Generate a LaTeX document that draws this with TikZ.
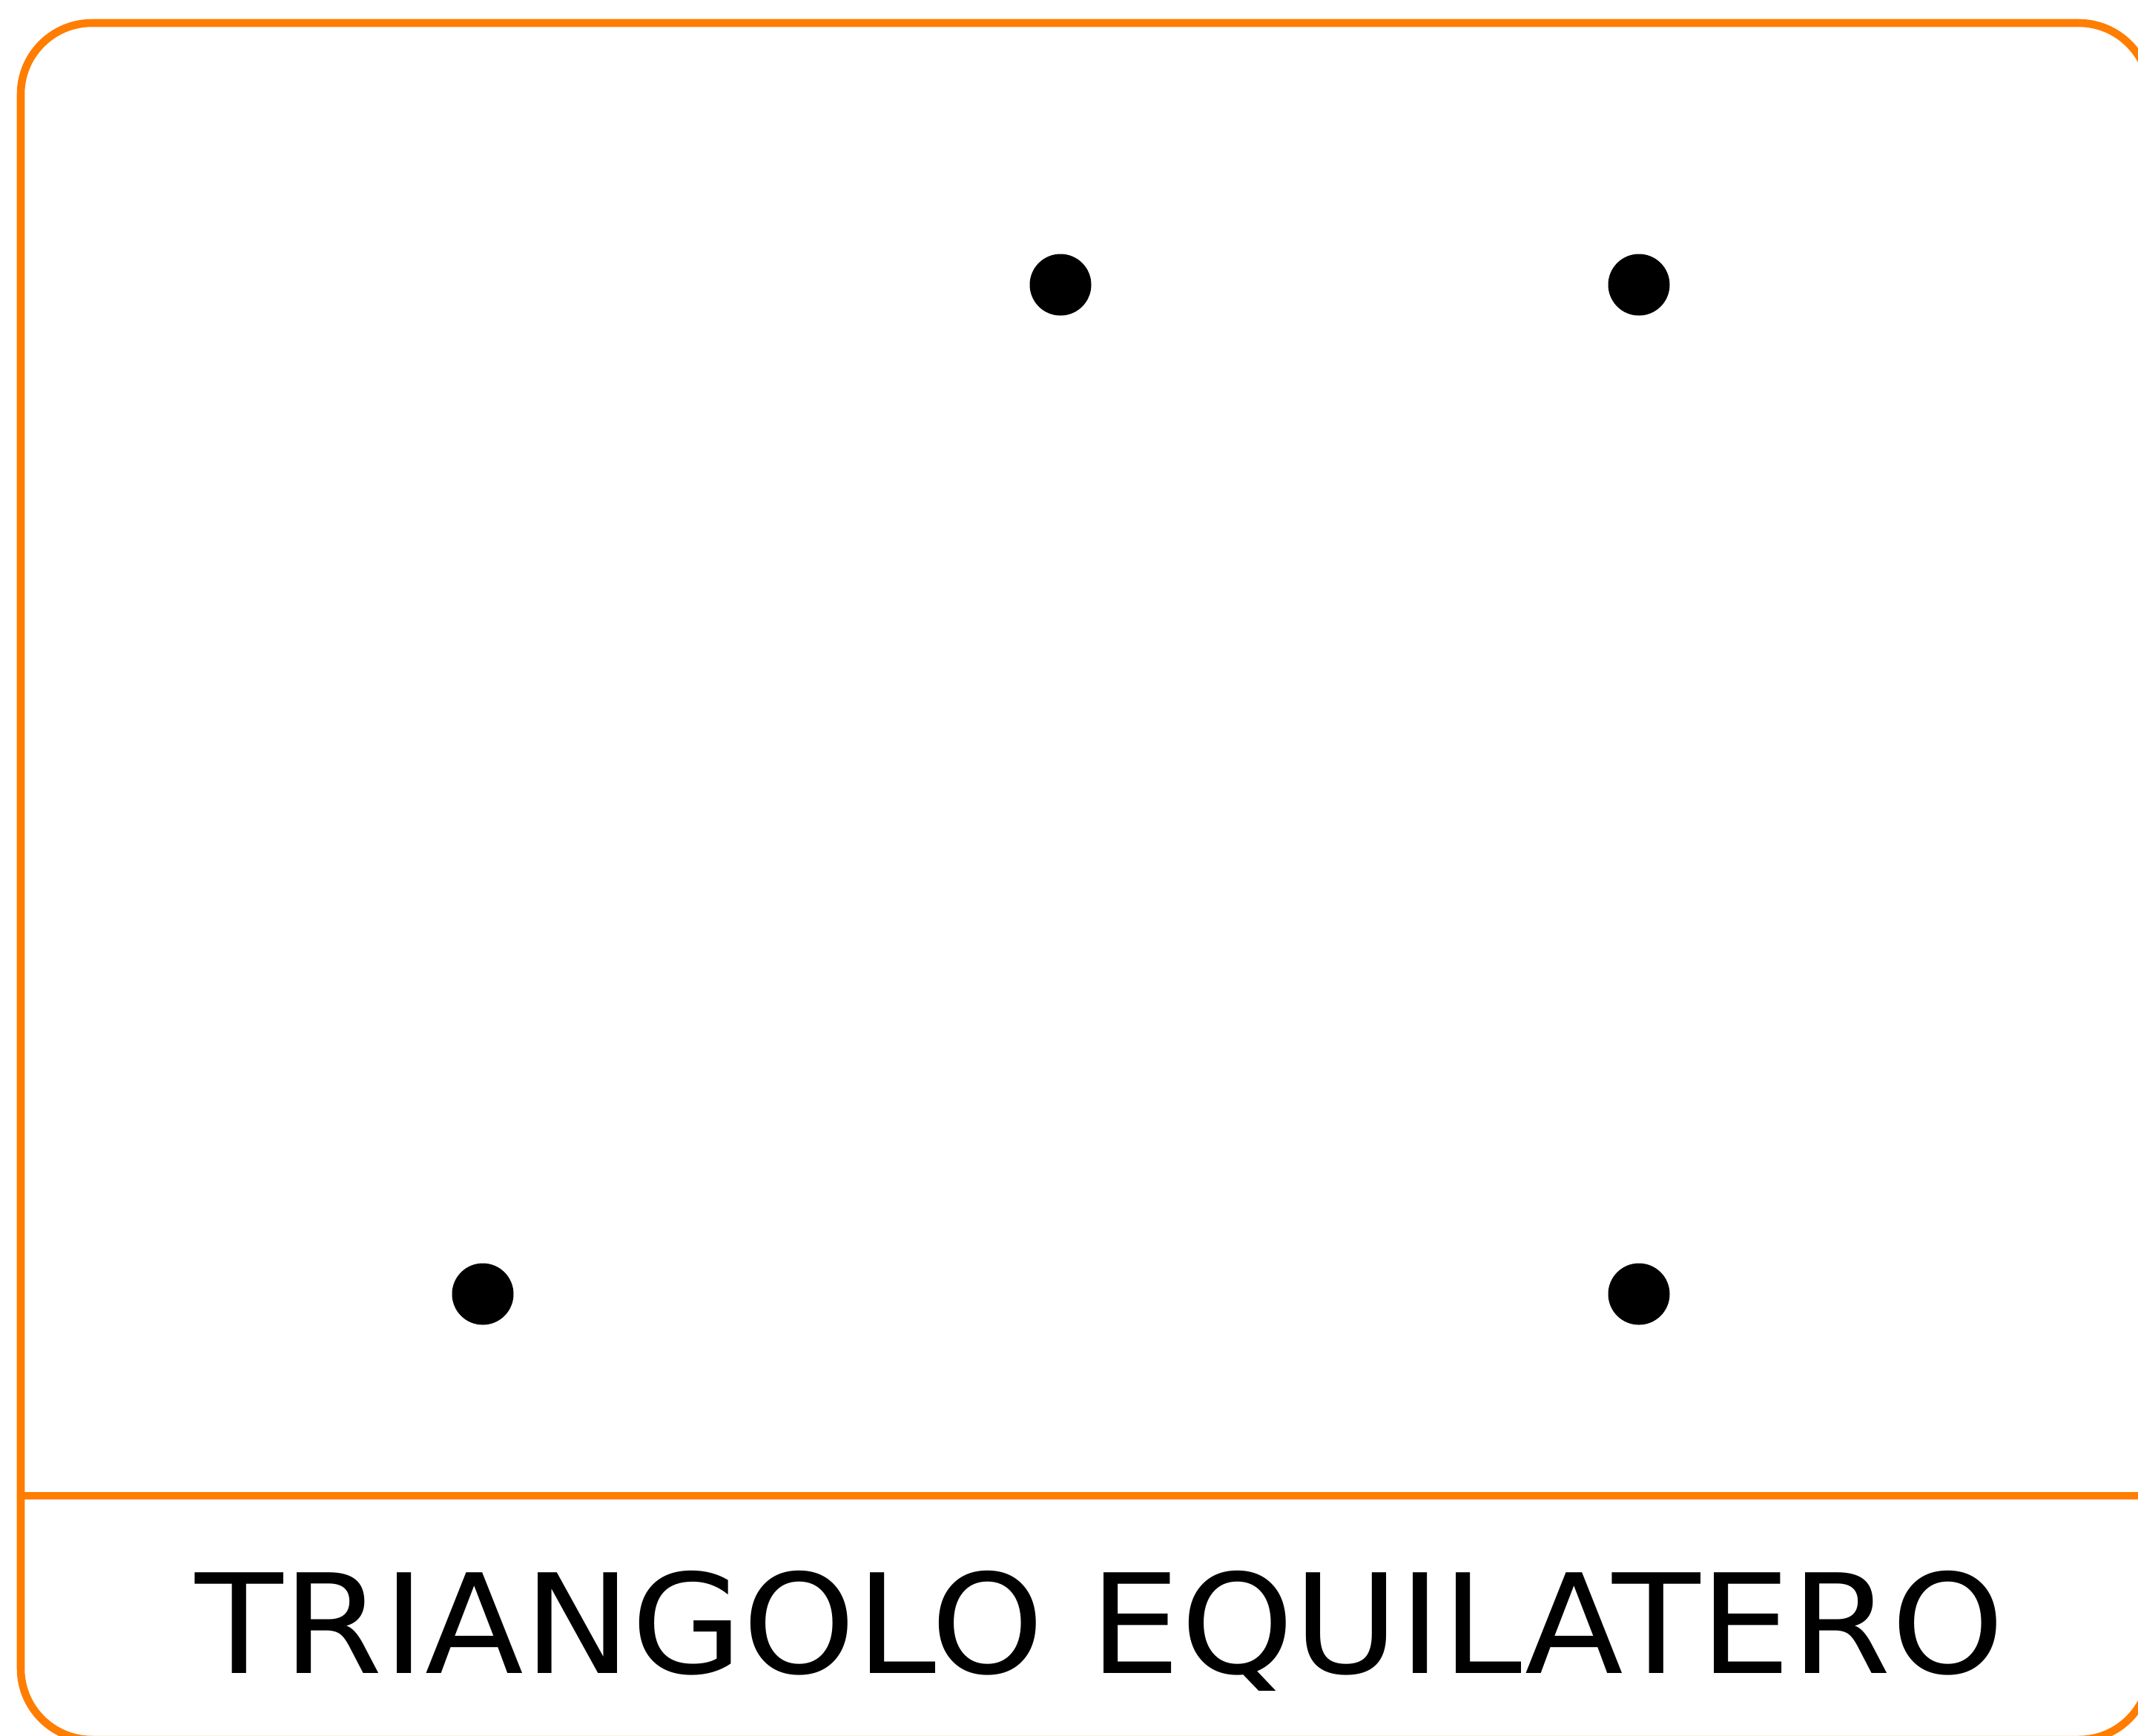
\documentclass[tikz,border=0pt]{standalone}
\usepackage{fontspec}
\setmainfont{DejaVu Sans}
\definecolor{frameorange}{RGB}{255,125,0}
\tikzset{
  frame/.style={draw=frameorange, line width=3pt},
  dot/.style={circle, fill=black, inner sep=0pt, minimum size=0.83cm},
  caption/.style={font=\fontsize{53}{60}\selectfont, inner sep=0pt, anchor=base, xscale=1.041}
}
\begin{document}
\begin{tikzpicture}
\useasboundingbox (0,0) rectangle (28.83,-23.40);
\clip (0,0) rectangle (28.83,-23.40);
\fill[white] (0,0) rectangle (28.83,-23.40);
\draw[frame, rounded corners=0.96cm] (0.28,-0.31) rectangle (28.99,-23.46);
\coordinate (divL) at (0.28,-20.17);
\coordinate (divR) at (28.99,-20.17);
\draw[frame] (divL) -- (divR);
\node[dot] (p1) at (14.30,-3.84) {};
\node[dot] (p2) at (22.10,-3.84) {};
\node[dot] (p3) at (6.51,-17.45) {};
\node[dot] (p4) at (22.10,-17.45) {};
\node[caption] (title) at (14.83,-22.56) {TRIANGOLO EQUILATERO};
\end{tikzpicture}
\end{document}
